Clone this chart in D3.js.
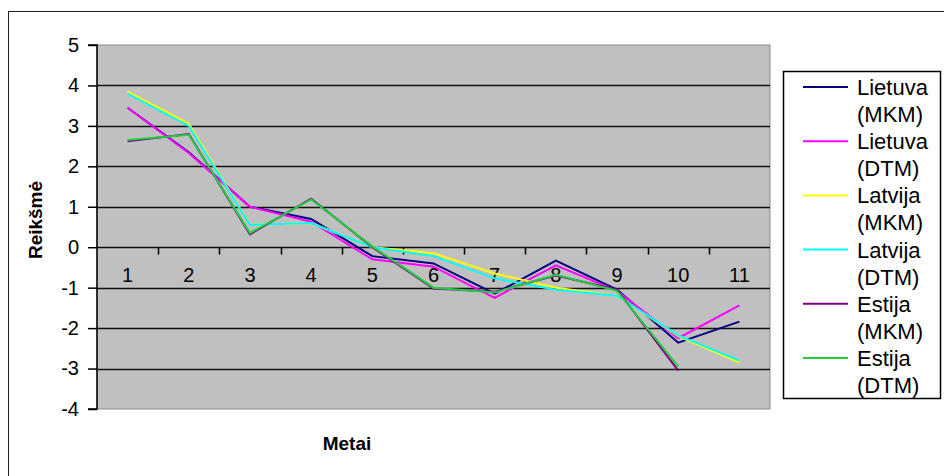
<!DOCTYPE html>
<html>
<head>
<meta charset="utf-8">
<script src="https://cdn.jsdelivr.net/npm/d3@7"></script>
<style>
  html, body { margin: 0; padding: 0; background: #fff; }
  svg { display: block; }
  text { font-family: Arial, "Liberation Sans", sans-serif; fill: #000; }
</style>
</head>
<body>
<svg id="chart" width="944" height="476"></svg>
<script>
// Categories (years 1..11)
const categories = ["1", "2", "3", "4", "5", "6", "7", "8", "9", "10", "11"];

// Series values per category (null = no value)
const lietuvaMKM = [3.45, 2.35, 1.0, 0.70, -0.22, -0.40, -1.15, -0.33, -1.05, -2.36, -1.84];
const lietuvaDTM = [3.45, 2.33, 1.0, 0.63, -0.30, -0.48, -1.25, -0.45, -1.08, -2.25, -1.44];
const latvijaMKM = [3.85, 3.05, 0.55, 0.60, 0.00, -0.15, -0.65, -1.00, -1.20, -2.20, -2.85];
const latvijaDTM = [3.80, 3.00, 0.55, 0.60, 0.00, -0.22, -0.77, -1.05, -1.20, -2.18, -2.80];
const estijaMKM  = [2.62, 2.80, 0.32, 1.20, 0.00, -1.02, -1.10, -0.70, -1.05, -3.05, null];
const estijaDTM  = [2.65, 2.78, 0.35, 1.18, 0.02, -1.00, -1.12, -0.68, -1.08, -2.95, null];

const seriesNames  = ["Lietuva (MKM)", "Lietuva (DTM)", "Latvija (MKM)", "Latvija (DTM)", "Estija (MKM)", "Estija (DTM)"];
const seriesValues = [lietuvaMKM, lietuvaDTM, latvijaMKM, latvijaDTM, estijaMKM, estijaDTM];
const seriesColors = ["#000080", "#ff00ff", "#ffff00", "#00ffff", "#800080", "#22cc44"];

const yTicks = [5, 4, 3, 2, 1, 0, -1, -2, -3, -4];

const svg = d3.select("#chart");

// Outer chart frame
svg.append("rect")
  .attr("x", 8.5).attr("y", 11.5)
  .attr("width", 940).attr("height", 480)
  .attr("fill", "#fff").attr("stroke", "#222").attr("stroke-width", 1);

const plot = { left: 97, top: 45, right: 770, bottom: 409 };

const x = d3.scaleBand().domain(categories).range([plot.left, plot.right]).padding(0);
const y = d3.scaleLinear().domain([-4, 5]).range([plot.bottom, plot.top]);

// Plot area
svg.append("rect")
  .attr("x", plot.left).attr("y", plot.top)
  .attr("width", plot.right - plot.left).attr("height", plot.bottom - plot.top)
  .attr("fill", "#c0c0c0").attr("stroke", "#8a8a8a").attr("stroke-width", 1);

// Horizontal gridlines
svg.append("g")
  .selectAll("line")
  .data(yTicks.filter(v => v !== 5 && v !== -4))
  .join("line")
  .attr("x1", plot.left).attr("x2", plot.right)
  .attr("y1", d => Math.round(y(d)) + 0.5).attr("y2", d => Math.round(y(d)) + 0.5)
  .attr("stroke", "#111").attr("stroke-width", 1.5);

// Value axis
const yAxis = d3.axisLeft(y).tickValues(yTicks).tickSize(9).tickPadding(9)
  .tickFormat(d => d < 0 ? "-" + Math.abs(d) : String(d));
const gy = svg.append("g").attr("transform", `translate(${plot.left},0)`).call(yAxis);
gy.select(".domain").attr("stroke", "#000").attr("stroke-width", 1.5)
  .attr("d", `M-9,${y(5)}H0V${y(-4)}H-9`);
gy.selectAll(".tick line").attr("stroke", "#000").attr("stroke-width", 1.5);
gy.selectAll(".tick text").style("font-size", "20px").attr("fill", "#000");

// Category axis crossing at zero
const zeroY = Math.round(y(0)) + 0.5;
const boundaries = categories.slice(0, -1).map(c => x(c) + x.bandwidth());
svg.append("g")
  .selectAll("line")
  .data(boundaries)
  .join("line")
  .attr("x1", d => Math.round(d) + 0.5).attr("x2", d => Math.round(d) + 0.5)
  .attr("y1", zeroY).attr("y2", zeroY + 7)
  .attr("stroke", "#000").attr("stroke-width", 1.5);

svg.append("g")
  .selectAll("text")
  .data(categories)
  .join("text")
  .attr("x", d => x(d) + x.bandwidth() / 2)
  .attr("y", zeroY + 34)
  .attr("text-anchor", "middle")
  .style("font-size", "20px")
  .text(d => d);

// Series lines
const line = d3.line()
  .defined(d => d.v !== null)
  .x(d => x(d.c) + x.bandwidth() / 2)
  .y(d => y(d.v));

svg.append("g")
  .selectAll("path")
  .data(seriesValues.map((vals, i) => ({
    color: seriesColors[i],
    pts: categories.map((c, j) => ({ c, v: vals[j] }))
  })))
  .join("path")
  .attr("d", d => line(d.pts))
  .attr("fill", "none")
  .attr("stroke", d => d.color)
  .attr("stroke-width", 2)
  .attr("stroke-linejoin", "miter");

// Axis titles
svg.append("text")
  .attr("transform", "translate(42,220) rotate(-90)")
  .attr("text-anchor", "middle")
  .style("font-size", "19px").style("font-weight", "bold")
  .text("Reikšmė");

svg.append("text")
  .attr("x", 347).attr("y", 450)
  .attr("text-anchor", "middle")
  .style("font-size", "19px").style("font-weight", "bold")
  .text("Metai");

// Legend
const legend = svg.append("g");
legend.append("rect")
  .attr("x", 783.5).attr("y", 71.5)
  .attr("width", 157).attr("height", 327)
  .attr("fill", "#fff").attr("stroke", "#000").attr("stroke-width", 1.5);

const entry = legend.selectAll("g.entry")
  .data(seriesNames.map((n, i) => ({ name: n, color: seriesColors[i] })))
  .join("g")
  .attr("class", "entry")
  .attr("transform", (d, i) => `translate(0,${87 + i * 54.2})`);

entry.append("line")
  .attr("x1", 803).attr("x2", 848)
  .attr("y1", 0).attr("y2", 0)
  .attr("stroke", d => d.color).attr("stroke-width", 2);

entry.each(function(d) {
  const parts = d.name.split(" ");
  const t = d3.select(this).append("text")
    .attr("x", 857).attr("y", 8)
    .style("font-size", "22px");
  t.append("tspan").attr("x", 857).attr("dy", 0).text(parts[0]);
  t.append("tspan").attr("x", 857).attr("dy", 27).text(parts[1]);
});
</script>
</body>
</html>
